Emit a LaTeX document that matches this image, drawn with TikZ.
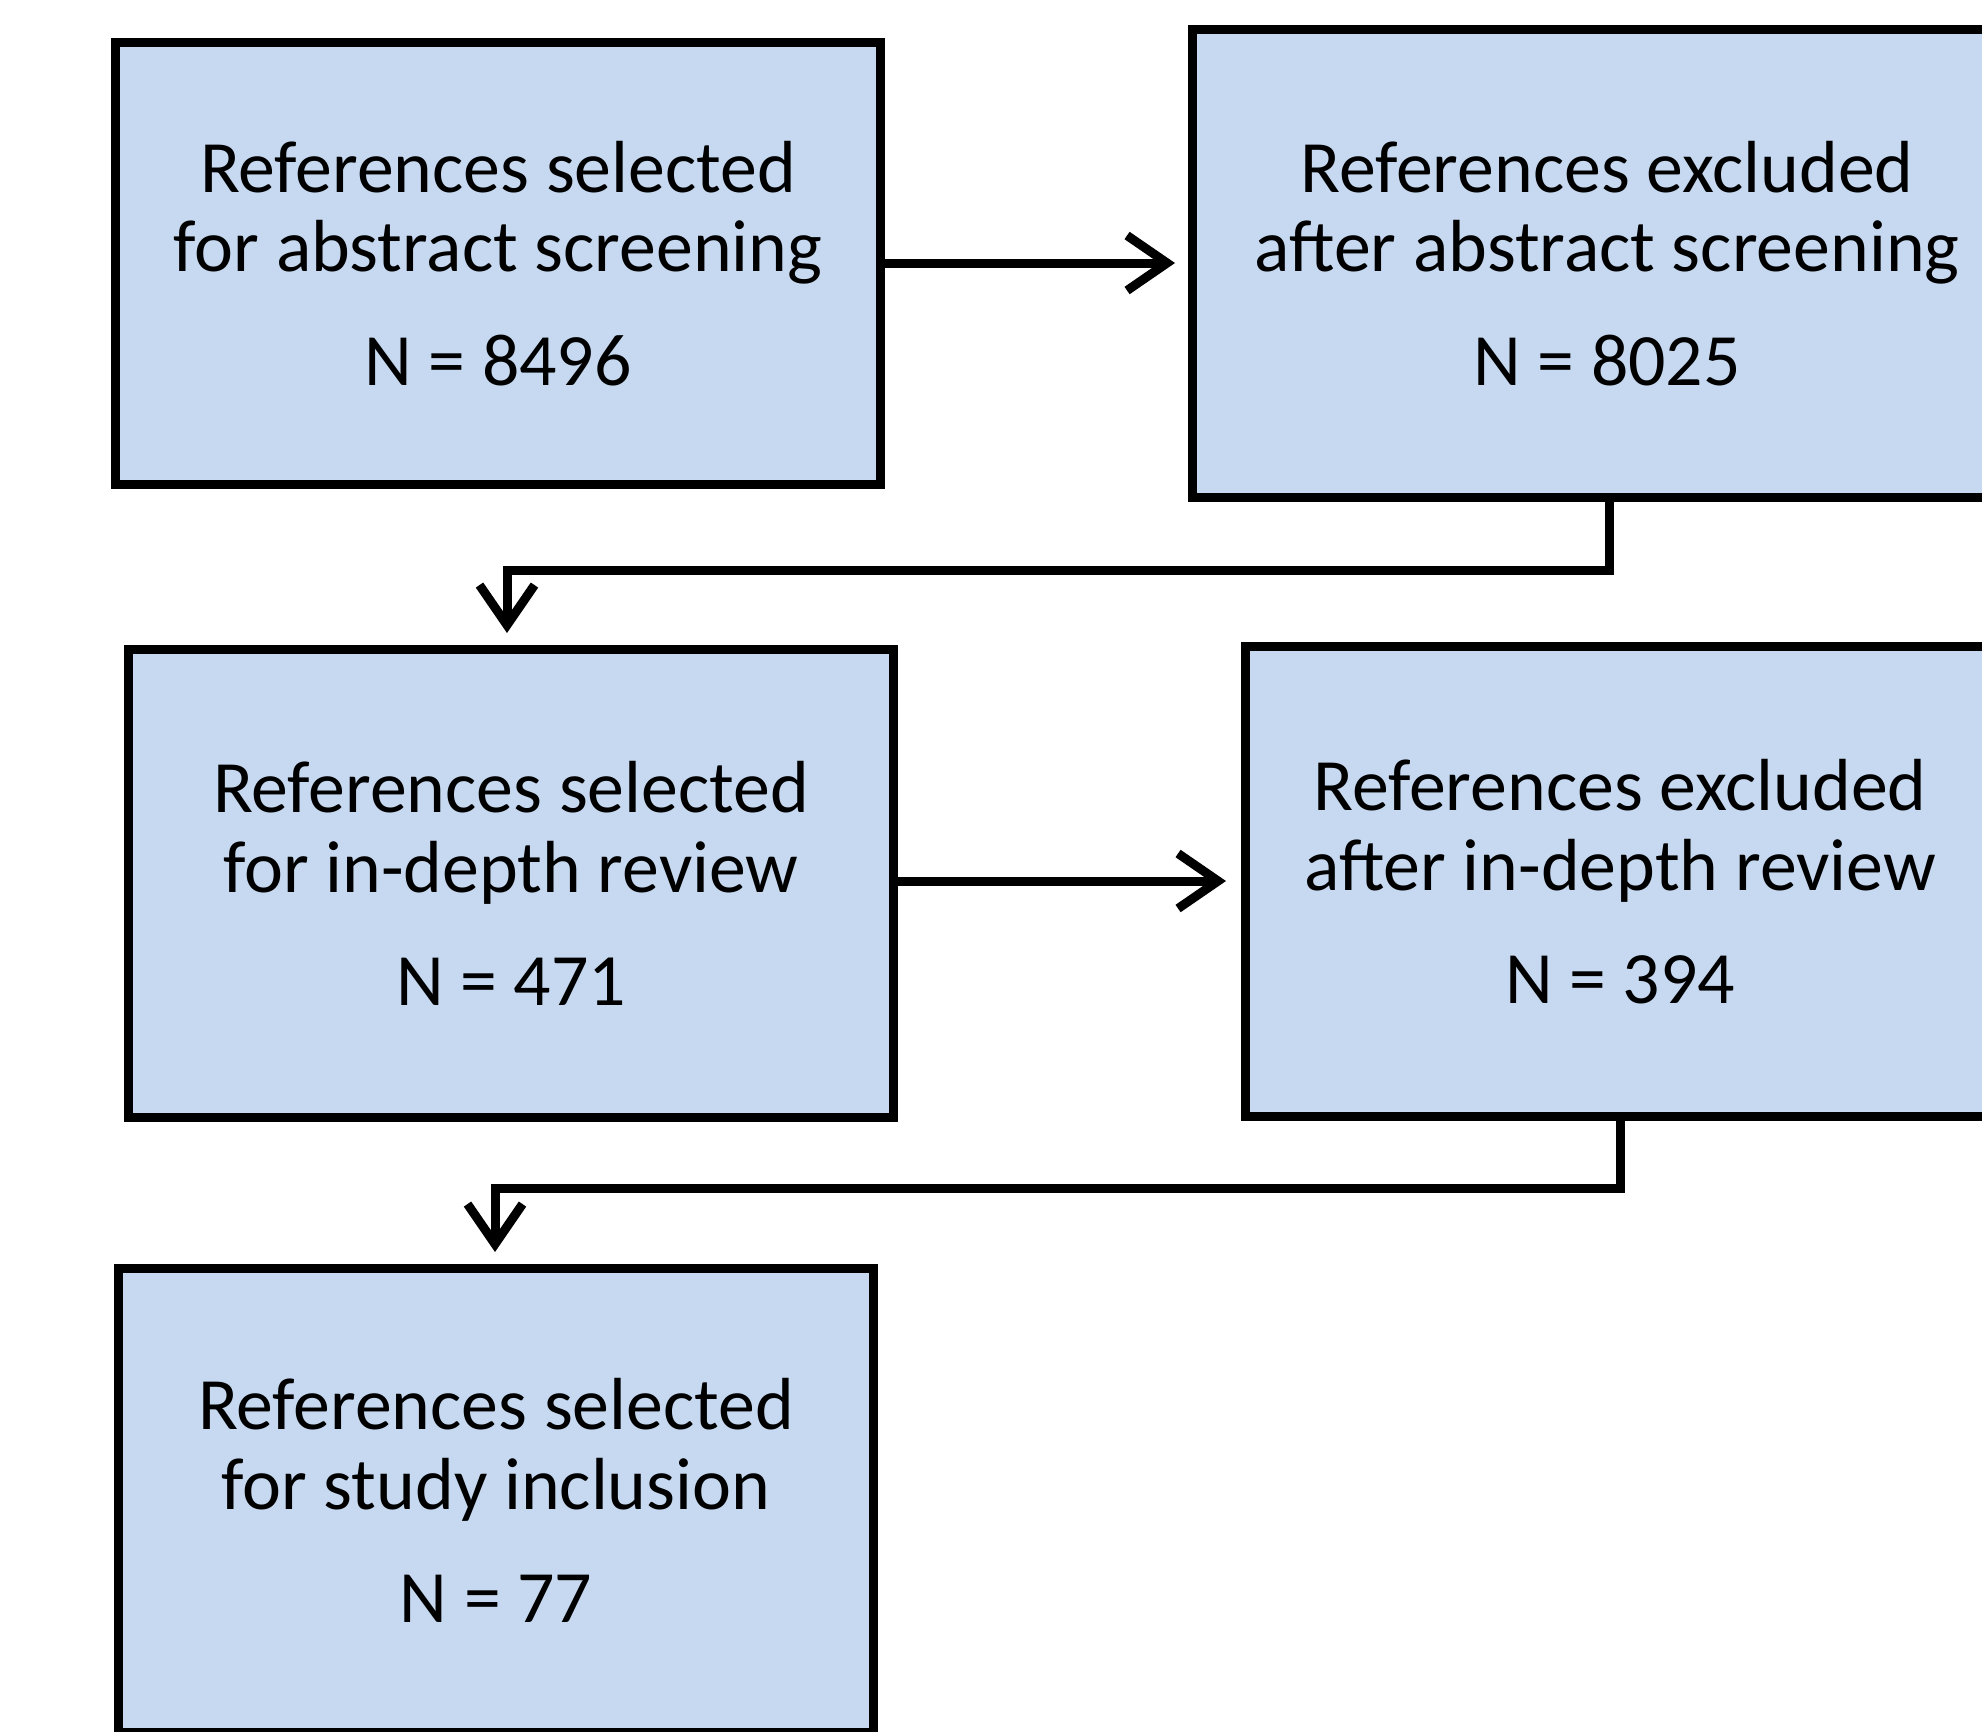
\documentclass[tikz,border=0pt]{standalone}
\usepackage{fontspec}
\setmainfont{Carlito}
\usetikzlibrary{arrows.meta}
\definecolor{boxblue}{RGB}{198,217,240}

\begin{document}
\begin{tikzpicture}[
  box/.style={draw, line width=0.9mm, fill=boxblue, align=center, inner sep=0pt,
    font=\fontsize{21}{22.6}\selectfont},
  flow/.style={line width=0.9mm, -{Straight Barb[length=4mm,width=5.5mm]}}]

\useasboundingbox (0,0) rectangle (19.82,-17.31);
\clip (0,0) rectangle (19.82,-17.31);

% Boxes
\node[box, minimum width=7.65cm, minimum height=4.42cm] (S1) at (4.98,-2.635)
  {References selected\\for abstract screening\\[9.6pt]N = 8496};
\node[box, minimum width=8.29cm, minimum height=4.68cm] (E1) at (16.07,-2.635)
  {References excluded\\after abstract screening\\[9.6pt]N = 8025};
\node[box, minimum width=7.65cm, minimum height=4.68cm] (S2) at (5.11,-8.835)
  {References selected\\for in-depth review\\[9.6pt]N = 471};
\node[box, minimum width=7.49cm, minimum height=4.70cm] (E2) at (16.20,-8.815)
  {References excluded\\after in-depth review\\[9.6pt]N = 394};
\node[box, minimum width=7.55cm, minimum height=4.64cm] (S3) at (4.96,-15.005)
  {References selected\\for study inclusion\\[9.6pt]N = 77};

% Bends and tips
\coordinate (T1) at (11.75,-2.63);
\coordinate (K1) at (5.07,-5.70);
\coordinate (T2) at (12.26,-8.81);
\coordinate (K2) at (4.95,-11.88);

% Connectors
\draw[flow] (S1.east |- T1) -- (T1);
\draw[flow] (E1.south -| 16.09,0) |- (K1) -- ([yshift=1.2mm]K1 |- S2.north);
\draw[flow] (S2.east |- T2) -- (T2);
\draw[flow] (E2.south) |- (K2) -- ([yshift=1.2mm]K2 |- S3.north);

\end{tikzpicture}
\end{document}
